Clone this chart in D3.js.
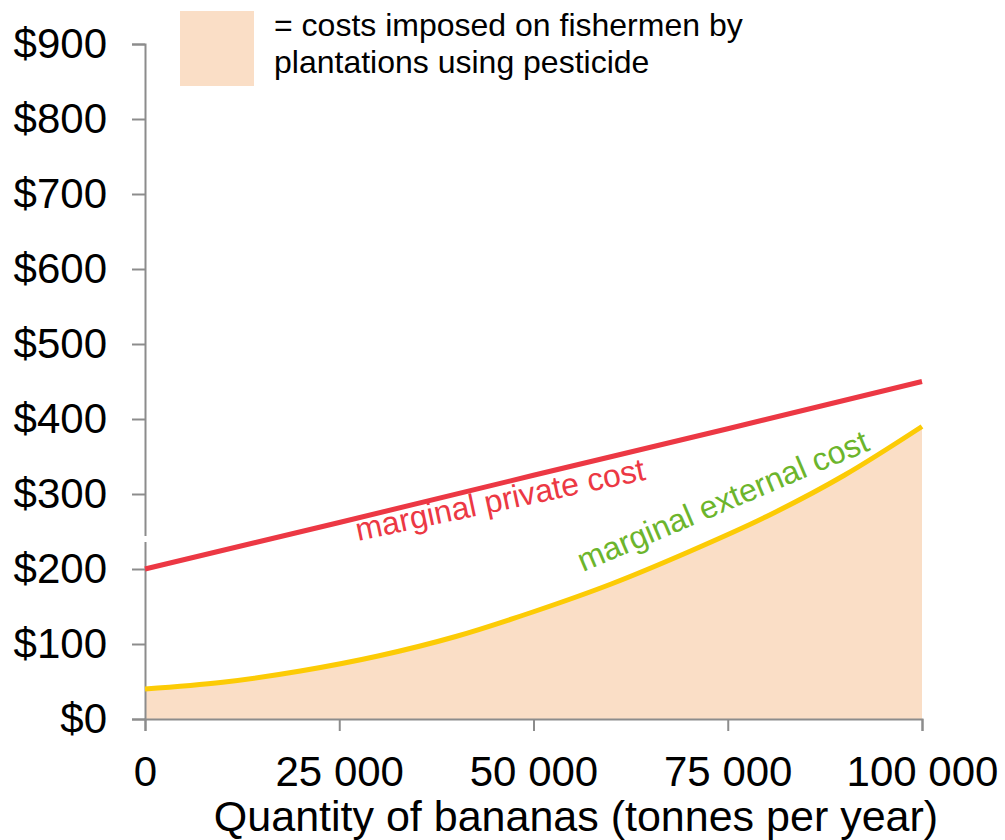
<!DOCTYPE html>
<html><head><meta charset="utf-8">
<script src="https://cdn.jsdelivr.net/npm/d3@7"></script>
<style>body{margin:0;background:#fff}svg{display:block}text{font-family:"Liberation Sans",Arial,sans-serif}</style>
</head><body><svg id="c" width="1005" height="840"></svg>
<script>
const xTicks = [0, 25000, 50000, 75000, 100000];
const xTickLabels = ["0", "25 000", "50 000", "75 000", "100 000"];
const yTicks = [0, 100, 200, 300, 400, 500, 600, 700, 800, 900];
const yTickLabels = ["$0","$100","$200","$300","$400","$500","$600","$700","$800","$900"];
const privateQ = [0, 25000, 50000, 75000, 100000];
const privateCost = [200, 262, 325, 387, 450];
const externalQ = [0, 10000, 20000, 30000, 40000, 50000, 60000, 70000, 80000, 90000, 100000];
const externalCost = [40, 49, 64, 84, 110, 143, 180, 223, 270, 325, 390];
const legendText = ["= costs imposed on fishermen by", "plantations using pesticide"];
const xTitle = "Quantity of bananas (tonnes per year)";

const svg = d3.select("#c");
const x = d3.scaleLinear().domain([0, 100000]).range([145, 922]);
const y = d3.scaleLinear().domain([0, 900]).range([719, 44]);
const axisColor = "#8c8c8c";
const font = "Liberation Sans, Arial, sans-serif";

const ext = externalQ.map((q,i)=>({q, v: externalCost[i]}));
const pri = privateQ.map((q,i)=>({q, v: privateCost[i]}));

// area
svg.append("path").datum(ext)
  .attr("d", d3.area().x(d=>x(d.q)).y0(y(0)).y1(d=>y(d.v)).curve(d3.curveMonotoneX))
  .attr("fill", "#fadec6");

// y axis
const ya = svg.append("g").attr("transform", `translate(${x(0)},0)`)
  .call(d3.axisLeft(y).tickValues(yTicks).tickFormat((d,i)=>yTickLabels[i]).tickSize(13).tickPadding(25));
ya.select(".domain").attr("stroke", axisColor).attr("stroke-width", 2);
ya.selectAll(".tick line").attr("stroke", axisColor).attr("stroke-width", 2);
ya.selectAll(".tick text").attr("font-size", 42).attr("fill", "#000").attr("font-family", font);
// axis break
svg.append("rect").attr("x", x(0)-3).attr("y", y(244)).attr("width", 6).attr("height", y(236)-y(244)).attr("fill", "#fff");

// x axis
const xa = svg.append("g").attr("transform", `translate(0,${y(0)})`)
  .call(d3.axisBottom(x).tickValues(xTicks).tickFormat((d,i)=>xTickLabels[i]).tickSize(12).tickPadding(25));
xa.select(".domain").attr("stroke", axisColor).attr("stroke-width", 2);
xa.selectAll(".tick line").attr("stroke", axisColor).attr("stroke-width", 2);
xa.selectAll(".tick text").attr("font-size", 42).attr("fill", "#000").attr("font-family", font);

svg.append("text").attr("x", 576).attr("y", 831).attr("text-anchor", "middle")
  .attr("font-size", 43).attr("fill", "#000").text(xTitle);

// lines
svg.append("path").datum(ext)
  .attr("d", d3.line().x(d=>x(d.q)).y(d=>y(d.v)).curve(d3.curveMonotoneX))
  .attr("fill", "none").attr("stroke", "#fccb05").attr("stroke-width", 5);
svg.append("path").datum(pri)
  .attr("d", d3.line().x(d=>x(d.q)).y(d=>y(d.v)))
  .attr("fill", "none").attr("stroke", "#ec3844").attr("stroke-width", 5);

// labels
svg.append("text").attr("transform", "translate(358,541) rotate(-12)")
  .attr("font-size", 32).attr("fill", "#ec3844").text("marginal private cost");
svg.append("text").attr("transform", "translate(583,572) rotate(-23)")
  .attr("font-size", 32).attr("fill", "#6cb52c").text("marginal external cost");

// legend
svg.append("rect").attr("x", 180).attr("y", 11).attr("width", 74).attr("height", 75).attr("fill", "#fadec6");
svg.append("text").attr("x", 274).attr("y", 36).attr("font-size", 32).attr("fill", "#000").text(legendText[0]);
svg.append("text").attr("x", 274).attr("y", 73).attr("font-size", 32).attr("fill", "#000").text(legendText[1]);
</script></body></html>
